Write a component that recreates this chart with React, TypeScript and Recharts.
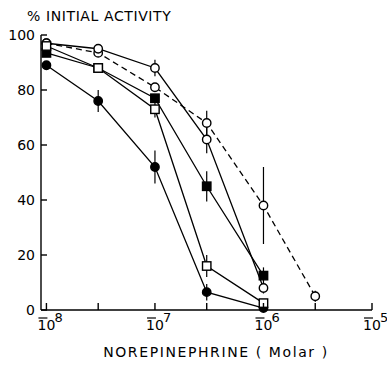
import React from "react";
import { ComposedChart, Line, XAxis, YAxis, ErrorBar } from "recharts";

// log10 of norepinephrine concentration (Molar)
const concLog = [-8, -7.523, -7, -6.523, -6, -5.523];
const xTicks = [-8, -7.523, -7, -6.523, -6, -5.523, -5];
const yTicks = [0, 20, 40, 60, 80, 100];

const filledCircle = [89, 76, 52, 6.5, 0.7];
const filledCircleErr = [0, 4, 6, 3, 0];
const openSquare = [96, 88, 73, 16, 2.5];
const openSquareErr = [0, 0, 3, 4, 1];
const filledSquare = [93.5, 88, 77, 45, 12.5];
const filledSquareErr = [0, 0, 0, 5.5, 3];
const openCircleSolid = [97, 95, 88, 62, 8];
const openCircleSolidErr = [0, 0, 3, 5, 2];
const openCircleDashed = [97, 93.5, 81, 68, 38, 5];
const openCircleDashedErr = [0, 0, 0, 4.5, 14, 2];

const FONT = "DejaVu Sans";

const toRows = (vals: number[], errs: number[]) =>
  vals.map((v, i) => ({ x: concLog[i], y: v, err: errs[i] }));

const circleDot = (filled: boolean) => (props: any) => {
  const { cx, cy, index } = props;
  if (cx == null || cy == null) return <g key={index} />;
  return (
    <circle
      key={index}
      cx={cx}
      cy={cy}
      r={4.2}
      fill={filled ? "#000" : "#fff"}
      stroke="#000"
      strokeWidth={1.4}
    />
  );
};

const squareDot = (filled: boolean) => (props: any) => {
  const { cx, cy, index } = props;
  if (cx == null || cy == null) return <g key={index} />;
  return (
    <rect
      key={index}
      x={cx - 4.2}
      y={cy - 4.2}
      width={8.4}
      height={8.4}
      fill={filled ? "#000" : "#fff"}
      stroke="#000"
      strokeWidth={1.4}
    />
  );
};

const XTick = (props: any) => {
  const { x, y, payload } = props;
  const v = payload.value;
  const major = Math.abs(v - Math.round(v)) < 0.01;
  return (
    <g>
      <line x1={x} y1={y} x2={x} y2={y - 7} stroke="#000" strokeWidth={1.4} />
      {major && (
        <g>
          <line x1={x - 8} y1={y + 8} x2={x + 1} y2={y + 8} stroke="#000" strokeWidth={1.2} />
          <text x={x} y={y + 20} textAnchor="middle" fontFamily={FONT} fontSize={14} fill="#000">
            10
          </text>
          <text x={x + 8} y={y + 12} textAnchor="start" fontFamily={FONT} fontSize={13} fill="#000">
            {Math.abs(Math.round(v))}
          </text>
        </g>
      )}
    </g>
  );
};

const YTick = (props: any) => {
  const { x, y, payload } = props;
  return (
    <g>
      <line x1={x} y1={y} x2={x + 6} y2={y} stroke="#000" strokeWidth={1.4} />
      <text x={x - 6} y={y + 5} textAnchor="end" fontFamily={FONT} fontSize={14} fill="#000">
        {payload.value}
      </text>
    </g>
  );
};

export default function App() {
  return (
    <div style={{ position: "absolute", left: 0, top: 0, background: "#fff" }}>
      <ComposedChart
        width={387}
        height={366}
        margin={{ top: 35, right: 15, bottom: 0, left: 0 }}
      >
        <text x={27} y={21} fontFamily={FONT} fontSize={14} letterSpacing={0.6} fill="#000">
          % INITIAL ACTIVITY
        </text>
        <text
          x={216}
          y={357}
          textAnchor="middle"
          fontFamily={FONT}
          fontSize={14}
          letterSpacing={1.6}
          fill="#000"
        >
          NOREPINEPHRINE ( Molar )
        </text>
        <XAxis
          type="number"
          dataKey="x"
          scale="linear"
          domain={[-8.05, -5]}
          ticks={xTicks}
          interval={0}
          allowDataOverflow
          height={56}
          tickSize={0}
          tickMargin={0}
          tickLine={false}
          tick={<XTick />}
          axisLine={{ stroke: "#000", strokeWidth: 1.4 }}
        />
        <YAxis
          type="number"
          domain={[0, 100]}
          ticks={yTicks}
          interval={0}
          width={41}
          tickSize={0}
          tickMargin={0}
          tickLine={false}
          tick={<YTick />}
          axisLine={{ stroke: "#000", strokeWidth: 1.4 }}
        />
        <Line
          data={toRows(openCircleDashed, openCircleDashedErr)}
          dataKey="y"
          stroke="#000"
          strokeWidth={1.3}
          strokeDasharray="6 4"
          dot={circleDot(false)}
          isAnimationActive={false}
        >
          <ErrorBar dataKey="err" width={0} stroke="#000" strokeWidth={1.2} direction="y" />
        </Line>
        <Line
          data={toRows(openCircleSolid, openCircleSolidErr)}
          dataKey="y"
          stroke="#000"
          strokeWidth={1.3}
          dot={circleDot(false)}
          isAnimationActive={false}
        >
          <ErrorBar dataKey="err" width={0} stroke="#000" strokeWidth={1.2} direction="y" />
        </Line>
        <Line
          data={toRows(filledCircle, filledCircleErr)}
          dataKey="y"
          stroke="#000"
          strokeWidth={1.3}
          dot={circleDot(true)}
          isAnimationActive={false}
        >
          <ErrorBar dataKey="err" width={0} stroke="#000" strokeWidth={1.2} direction="y" />
        </Line>
        <Line
          data={toRows(filledSquare, filledSquareErr)}
          dataKey="y"
          stroke="#000"
          strokeWidth={1.3}
          dot={squareDot(true)}
          isAnimationActive={false}
        >
          <ErrorBar dataKey="err" width={0} stroke="#000" strokeWidth={1.2} direction="y" />
        </Line>
        <Line
          data={toRows(openSquare, openSquareErr)}
          dataKey="y"
          stroke="#000"
          strokeWidth={1.3}
          dot={squareDot(false)}
          isAnimationActive={false}
        >
          <ErrorBar dataKey="err" width={0} stroke="#000" strokeWidth={1.2} direction="y" />
        </Line>
      </ComposedChart>
    </div>
  );
}
